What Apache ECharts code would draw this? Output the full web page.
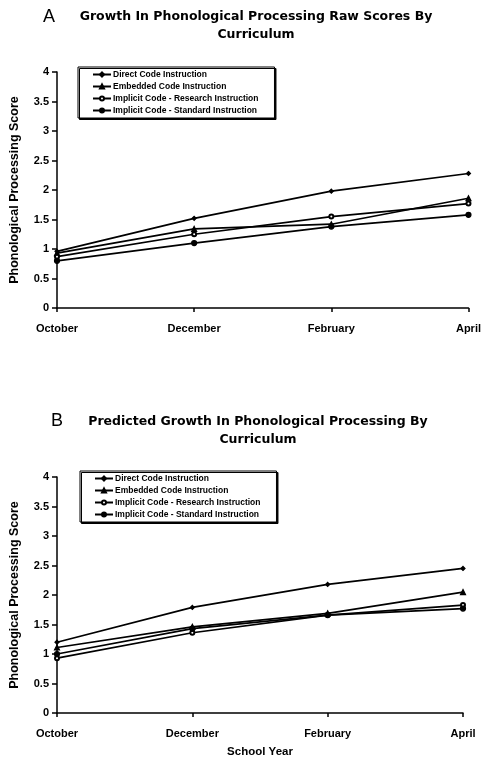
<!DOCTYPE html>
<html><head><meta charset="utf-8">
<script src="https://cdn.jsdelivr.net/npm/echarts@6/dist/echarts.min.js"></script>
<style>html,body{margin:0;padding:0;background:#fff}#c{width:484px;height:762px}</style>
</head><body><div id="c"></div>
<script>
const months = ['October', 'December', 'February', 'April'];
const seriesNames = ['Direct Code Instruction', 'Embedded Code Instruction', 'Implicit Code - Research Instruction', 'Implicit Code - Standard Instruction'];
// Panel A: raw scores
const rawDirect = [0.96, 1.52, 1.98, 2.28];
const rawEmbedded = [0.93, 1.34, 1.42, 1.86];
const rawResearch = [0.87, 1.25, 1.55, 1.77];
const rawStandard = [0.80, 1.10, 1.38, 1.58];
// Panel B: predicted
const predDirect = [1.20, 1.79, 2.18, 2.45];
const predEmbedded = [1.11, 1.46, 1.69, 2.05];
const predResearch = [0.93, 1.36, 1.66, 1.83];
const predStandard = [1.00, 1.43, 1.66, 1.77];
const yTicks = [0, 0.5, 1, 1.5, 2, 2.5, 3, 3.5, 4];

const FONT = 'Liberation Sans';
const TFONT = 'DejaVu Sans';
const symbols = [['diamond', 4], ['triangle', 5], ['emptyCircle', 4], ['circle', 5]];
const rawData = [rawDirect, rawEmbedded, rawResearch, rawStandard];
const predData = [predDirect, predEmbedded, predResearch, predStandard];

function mkSeries(data, idx) {
  return data.map((d, i) => ({
    name: seriesNames[i], type: 'line', xAxisIndex: idx, yAxisIndex: idx,
    data: d, symbol: symbols[i][0], symbolSize: symbols[i][1],
    lineStyle: { color: '#000', width: 1.7 },
    itemStyle: { color: '#000', borderColor: '#000', borderWidth: 1.2 },
    animation: false
  }));
}
function mkX(idx, name) {
  return {
    type: 'category', gridIndex: idx, data: months, boundaryGap: false,
    name: name, nameLocation: 'middle', nameGap: 33,
    nameTextStyle: { fontFamily: FONT, fontWeight: 'bold', fontSize: 11.5, color: '#000' },
    axisLine: { lineStyle: { color: '#000', width: 1.5 } },
    axisTick: { show: true, inside: false, length: 4, lineStyle: { color: '#000', width: 1.5 } },
    axisLabel: { fontFamily: FONT, fontWeight: 'bold', fontSize: 11, color: '#000', margin: 15 },
    splitLine: { show: false }
  };
}
function mkY(idx) {
  return {
    type: 'value', gridIndex: idx, min: 0, max: 4, interval: 0.5,
    name: 'Phonological Processing Score', nameLocation: 'middle', nameGap: 36,
    nameTextStyle: { fontFamily: FONT, fontWeight: 'bold', fontSize: 12.5, color: '#000' },
    axisLine: { show: true, lineStyle: { color: '#000', width: 1.5 } },
    axisTick: { show: true, length: 5, lineStyle: { color: '#000', width: 1.5 } },
    axisLabel: { fontFamily: FONT, fontWeight: 'bold', fontSize: 11, color: '#000', margin: 8,
      formatter: v => yTicks.includes(v) ? String(v) : '' },
    splitLine: { show: false }
  };
}
function mkLegend(idx, left, top) {
  return {
    data: seriesNames.map(n => n), left: left, top: top,
    orient: 'vertical', itemGap: 3, itemWidth: 18, itemHeight: 5,
    padding: [3, 16, 3, 14],
    borderColor: '#000', borderWidth: 1,
    shadowColor: '#000', shadowOffsetX: 1.5, shadowOffsetY: 1.5, backgroundColor: '#fff',
    textStyle: { fontFamily: FONT, fontWeight: 'bold', fontSize: 8.5, color: '#000', padding: [0, 0, 0, -3] },
    selectedMode: false
  };
}

const chart = echarts.init(document.getElementById('c'), null, { renderer: 'canvas' });
chart.setOption({
  backgroundColor: '#fff',
  animation: false,
  title: [
    { text: 'A', left: 38, top: 3, textStyle: { fontFamily: FONT, fontSize: 18, fontWeight: 'normal', color: '#000' } },
    { text: 'Growth In Phonological Processing Raw Scores By\nCurriculum', left: 251, top: 3, textAlign: 'center',
      textStyle: { fontFamily: TFONT, fontSize: 12.5, fontWeight: 'bold', color: '#000', lineHeight: 18 } },
    { text: 'B', left: 46, top: 407, textStyle: { fontFamily: FONT, fontSize: 18, fontWeight: 'normal', color: '#000' } },
    { text: 'Predicted Growth In Phonological Processing By\nCurriculum', left: 253, top: 408, textAlign: 'center',
      textStyle: { fontFamily: TFONT, fontSize: 12.5, fontWeight: 'bold', color: '#000', lineHeight: 18 } }
  ],
  legend: [mkLegend(0, 78, 67), mkLegend(1, 80, 471)],
  grid: [
    { left: 54, right: 12, top: 72, height: 236 },
    { left: 57, right: 21, top: 477, height: 236 }
  ],
  xAxis: [mkX(0, ''), mkX(1, 'School Year')],
  yAxis: [mkY(0), mkY(1)],
  series: mkSeries(rawData, 0).concat(mkSeries(predData, 1))
});
</script></body></html>
